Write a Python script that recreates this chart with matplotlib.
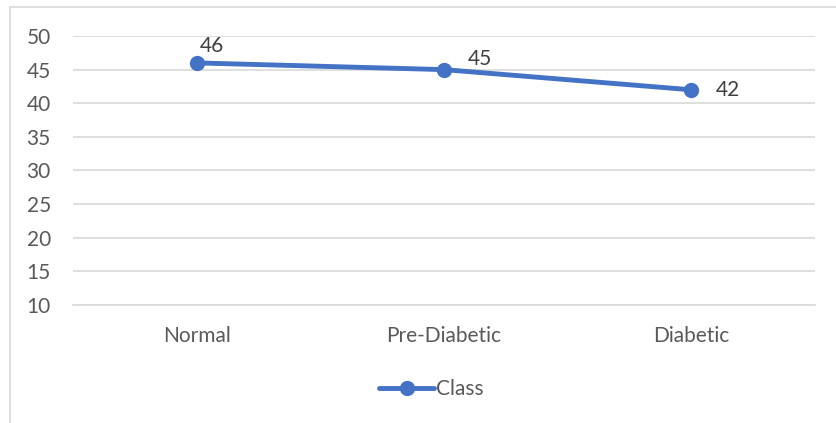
import matplotlib.pyplot as plt
from matplotlib.patches import Rectangle

categories = ["Normal", "Pre-Diabetic", "Diabetic"]
values = [46, 45, 42]
series_name = "Class"
y_ticks = [10, 15, 20, 25, 30, 35, 40, 45, 50]

blue = "#4472C4"
grey_text = "#595959"
grid_grey = "#D9D9D9"

plt.rcParams['font.family'] = ['Lato', 'DejaVu Sans']

fig = plt.figure(figsize=(8.36, 4.23), dpi=100)
ax = fig.add_axes([73 / 836, 1 - 305 / 423, (815 - 73) / 836, (305 - 36) / 423])

# chart area frame, cut off by the image edge on the right and bottom
fig.patches.append(Rectangle((10 / 836, -0.1), 1.2, 1 - 7 / 423 + 0.1,
                             transform=fig.transFigure, fill=False,
                             edgecolor=grid_grey, linewidth=1.2))

x = list(range(len(categories)))
ax.plot(x, values, color=blue, linewidth=3.5, marker='o', markersize=10,
        label=series_name, solid_capstyle='round', zorder=3)

offsets = [(11, 12), (26, 8), (26, 0)]
for xi, v, off in zip(x, values, offsets):
    ax.annotate(str(v), (xi, v), xytext=off, textcoords='offset points',
                ha='center', va='center', fontsize=15, color="#404040")

ax.set_xlim(-0.5, len(categories) - 0.5)
ax.set_ylim(10, 50)
ax.set_yticks(y_ticks)
ax.set_xticks(x)
ax.set_xticklabels(categories)
ax.yaxis.grid(True, color=grid_grey, linewidth=1.2)
ax.set_axisbelow(True)
for s in ['top', 'right', 'left']:
    ax.spines[s].set_visible(False)
ax.spines['bottom'].set_color(grid_grey)
ax.spines['bottom'].set_linewidth(1.2)
ax.tick_params(axis='both', length=0, labelsize=15, colors=grey_text)
ax.tick_params(axis='y', pad=16)
ax.tick_params(axis='x', pad=15)

fig.legend(loc='center', bbox_to_anchor=(0.516, 1 - 389 / 423), frameon=False,
           fontsize=15, labelcolor=grey_text, handlelength=2.6,
           handletextpad=0.1, markerscale=1.0)

fig.savefig("out.png", dpi=100)
